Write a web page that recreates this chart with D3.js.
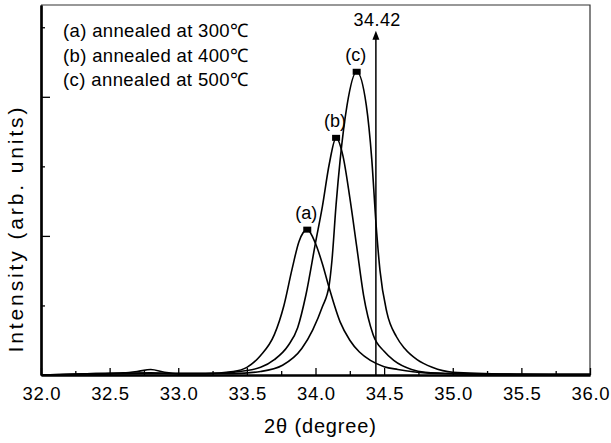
<!DOCTYPE html>
<html>
<head>
<meta charset="utf-8">
<script src="https://cdn.jsdelivr.net/npm/d3@7"></script>
<style>
  body { margin: 0; background: #fff; }
  svg { display: block; font-family: "Liberation Sans", Arial, Helvetica, sans-serif; }
</style>
</head>
<body>
<script>
// 2theta positions and intensities (arb. units)
var xA = [32.0, 32.2, 32.4, 32.6, 32.7, 32.8, 32.9, 33.0, 33.2, 33.4, 33.5, 33.6, 33.7, 33.77, 33.83, 33.88,
          33.94, 34.0, 34.05, 34.1, 34.18, 34.25, 34.32, 34.4, 34.5, 34.6, 34.8, 35.0, 35.5, 36.0];
var yA = [0.00, 0.01, 0.02, 0.03, 0.05, 0.08, 0.04, 0.02, 0.02, 0.05, 0.11, 0.28, 0.58, 1.00, 1.53, 1.92,
          2.09, 1.89, 1.60, 1.25, 0.76, 0.50, 0.33, 0.21, 0.12, 0.08, 0.03, 0.02, 0.01, 0.01];

var xB = [32.0, 32.4, 32.8, 33.0, 33.2, 33.4, 33.6, 33.7, 33.8, 33.87, 33.93, 34.0, 34.05, 34.1, 34.15,
          34.2, 34.25, 34.3, 34.35, 34.42, 34.5, 34.57, 34.7, 34.8, 35.0, 35.5, 36.0];
var yB = [0.00, 0.02, 0.03, 0.02, 0.02, 0.04, 0.11, 0.22, 0.42, 0.68, 1.15, 1.90, 2.42, 3.03, 3.41,
          3.15, 2.55, 1.85, 1.15, 0.58, 0.34, 0.21, 0.08, 0.04, 0.02, 0.01, 0.01];

var xC = [32.0, 32.4, 32.8, 33.0, 33.2, 33.4, 33.6, 33.76, 33.9, 33.98, 34.05, 34.1, 34.12, 34.15, 34.18,
          34.23, 34.3, 34.37, 34.41, 34.44, 34.47, 34.52, 34.59, 34.65, 34.74, 34.85, 35.0, 35.5, 36.0];
var yC = [0.00, 0.01, 0.02, 0.02, 0.02, 0.02, 0.05, 0.14, 0.38, 0.65, 0.98, 1.30, 1.65, 2.45, 3.10,
          3.88, 4.36, 3.88, 3.10, 2.20, 1.50, 0.90, 0.55, 0.38, 0.22, 0.11, 0.04, 0.01, 0.00];

var peakLabels = ["(a)", "(b)", "(c)"];
var legendLabels = ["(a) annealed at 300\u2103", "(b) annealed at 400\u2103", "(c) annealed at 500\u2103"];
var xTicks = [32.0, 32.5, 33.0, 33.5, 34.0, 34.5, 35.0, 35.5, 36.0];
var xMinor = [32.25, 32.75, 33.25, 33.75, 34.25, 34.75, 35.25, 35.75];
var yMajor = [2, 4];
var yMinor = [1, 3, 5];
var arrowAt = 34.44, arrowTop = 4.95, arrowLabel = "34.42";

var W = 611, H = 443;
var margin = { top: 5, right: 21, bottom: 68, left: 41 };

var x = d3.scaleLinear().domain([32, 36]).range([margin.left, W - margin.right]);
var y = d3.scaleLinear().domain([0, 5.32]).range([H - margin.bottom, margin.top]);

var series = [
  { label: peakLabels[0], xs: xA, ys: yA },
  { label: peakLabels[1], xs: xB, ys: yB },
  { label: peakLabels[2], xs: xC, ys: yC }
].map(function (s) {
  s.values = s.xs.map(function (v, i) { return [v, s.ys[i]]; });
  s.peak = s.values.reduce(function (a, b) { return b[1] > a[1] ? b : a; });
  return s;
});

var svg = d3.select("body").append("svg")
  .attr("width", W)
  .attr("height", H);

// frame (top / right)
svg.append("path")
  .attr("d", "M" + x(32) + "," + y.range()[1] + "H" + x(36) + "V" + y(0))
  .attr("fill", "none")
  .attr("stroke", "#333")
  .attr("stroke-width", 1.2);

// curves
var line = d3.line()
  .x(function (d) { return x(d[0]); })
  .y(function (d) { return y(d[1]); })
  .curve(d3.curveMonotoneX);

svg.selectAll(".curve")
  .data(series)
  .enter().append("path")
  .attr("class", "curve")
  .attr("d", function (d) { return line(d.values); })
  .attr("fill", "none")
  .attr("stroke", "#000")
  .attr("stroke-width", 1.6);

// peak markers + labels
svg.selectAll(".mark")
  .data(series)
  .enter().append("rect")
  .attr("x", function (d) { return x(d.peak[0]) - 4; })
  .attr("y", function (d) { return y(d.peak[1]) - 3; })
  .attr("width", 8)
  .attr("height", 6)
  .attr("fill", "#000");

svg.selectAll(".plabel")
  .data(series)
  .enter().append("text")
  .attr("x", function (d) { return x(d.peak[0]) - 1; })
  .attr("y", function (d) { return y(d.peak[1]) - 11; })
  .attr("text-anchor", "middle")
  .style("font-size", "18px")
  .text(function (d) { return d.label; });

// 34.42 arrow
svg.append("line")
  .attr("x1", x(arrowAt)).attr("x2", x(arrowAt))
  .attr("y1", y(0)).attr("y2", y(arrowTop) + 6)
  .attr("stroke", "#000")
  .attr("stroke-width", 1.5);
svg.append("path")
  .attr("d", "M" + x(arrowAt) + "," + y(arrowTop) +
    "l-3.5,9h7z")
  .attr("fill", "#000");
svg.append("text")
  .attr("x", x(arrowAt) + 1)
  .attr("y", y(arrowTop) - 5)
  .attr("text-anchor", "middle")
  .attr("textLength", 47)
  .style("font-size", "18px")
  .text(arrowLabel);

// x axis, ticks pointing inward
var gx = svg.append("g")
  .attr("transform", "translate(0," + y(0) + ")")
  .call(d3.axisBottom(x).tickValues(xTicks).tickFormat(d3.format(".1f"))
    .tickSizeInner(-7).tickSizeOuter(0).tickPadding(12));
gx.append("g")
  .call(d3.axisBottom(x).tickValues(xMinor).tickFormat("")
    .tickSizeInner(-4).tickSizeOuter(0));
gx.selectAll(".domain").attr("stroke-width", 2.2);
gx.selectAll("line").attr("stroke-width", 1.3);
gx.selectAll("text")
  .attr("fill", "#000")
  .attr("textLength", 38)
  .style("font-size", "18.5px");

// y axis, no labels
var gy = svg.append("g")
  .attr("transform", "translate(" + x(32) + ",0)")
  .call(d3.axisLeft(y).tickValues(yMajor).tickFormat("").tickSizeInner(-9).tickSizeOuter(0));
gy.append("g")
  .call(d3.axisLeft(y).tickValues(yMinor).tickFormat("").tickSizeInner(-4).tickSizeOuter(0));
gy.selectAll(".domain").attr("stroke-width", 2.2);
gy.selectAll("line").attr("stroke-width", 1.3);

// axis titles
svg.append("text")
  .attr("x", 320)
  .attr("y", 433)
  .attr("text-anchor", "middle")
  .attr("textLength", 112)
  .style("font-size", "20px")
  .text("2\u03b8 (degree)");

svg.append("text")
  .attr("transform", "translate(23," + 230 + ") rotate(-90)")
  .attr("text-anchor", "middle")
  .attr("textLength", 245)
  .style("font-size", "21px")
  .text("Intensity (arb. units)");

// legend
svg.selectAll(".legend")
  .data(legendLabels)
  .enter().append("text")
  .attr("x", 63)
  .attr("y", function (d, i) { return 37 + i * 24.5; })
  .attr("textLength", 185)
  .style("font-size", "18.5px")
  .text(function (d) { return d; });
</script>
</body>
</html>
